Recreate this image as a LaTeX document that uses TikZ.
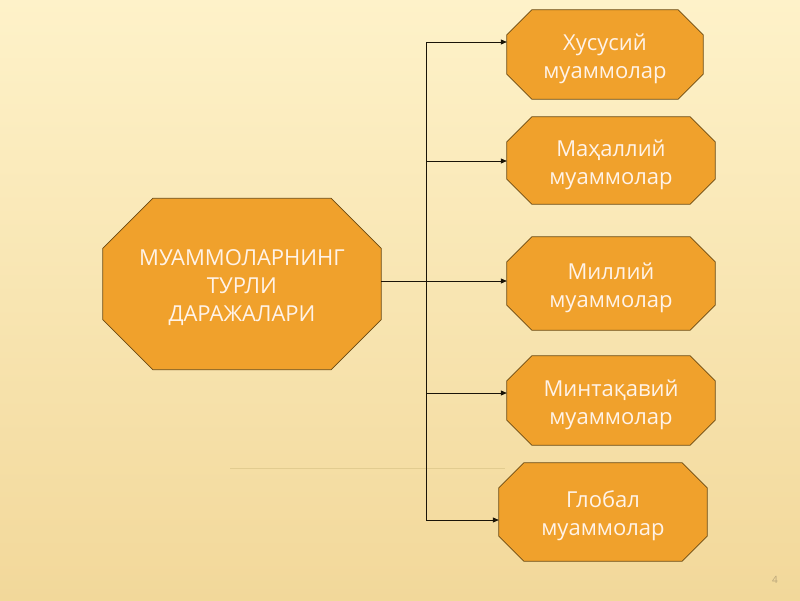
\documentclass[tikz,border=0pt]{standalone}
\usepackage{fontspec}
\setmainfont{Open Sans}
\usetikzlibrary{arrows.meta}
\definecolor{bgtop}{HTML}{FEF2C9}
\definecolor{bgbot}{HTML}{F2D89A}
\definecolor{boxfill}{HTML}{F0A12C}
\definecolor{boxline}{HTML}{6B4A12}
\definecolor{txt}{HTML}{FFF3E8}
\definecolor{conn}{HTML}{1A1408}
\definecolor{faintline}{HTML}{E2CC90}
\definecolor{pagenum}{HTML}{B9A57A}
\pgfdeclarelayer{bglayer}
\pgfdeclarelayer{shapes}
\pgfsetlayers{bglayer,shapes,main}
% name, cx, cy, w, h, cut, text ; text sits 4pt below the shape centre
\newcommand\octbox[7]{%
  \node[octtext, minimum width=#4pt, minimum height=#5pt] (#1) at (#2,{#3+4}) {#7};
  \begin{pgfonlayer}{shapes}
  \draw[octfill] ([xshift=#6pt,yshift=4pt]#1.north west) -- ([xshift=-#6pt,yshift=4pt]#1.north east)
    -- ([yshift=-#6pt+4pt]#1.north east) -- ([yshift=#6pt+4pt]#1.south east)
    -- ([xshift=-#6pt,yshift=4pt]#1.south east) -- ([xshift=#6pt,yshift=4pt]#1.south west)
    -- ([yshift=#6pt+4pt]#1.south west) -- ([yshift=-#6pt+4pt]#1.north west) -- cycle;
  \end{pgfonlayer}}
\begin{document}
\begin{tikzpicture}[x=1pt,y=-1pt,
  octtext/.style={rectangle, draw=none, inner sep=0pt, align=center, text=txt,
    font=\fontsize{22}{28}\selectfont},
  octfill/.style={draw=boxline, line width=0.8pt, fill=boxfill, line join=miter},
  arr/.style={draw=conn, line width=0.8pt, -{Triangle[length=6pt,width=5pt]}},
  ln/.style={draw=conn, line width=0.8pt}]
\begin{pgfonlayer}{bglayer}
  \fill[top color=bgtop, bottom color=bgbot] (0,0) rectangle (800,600);
  \draw[faintline, line width=0.6pt] (230,468) -- (505,468);
\end{pgfonlayer}
\useasboundingbox (0,0) rectangle (800,600);

\octbox{main}{242}{284}{278}{171}{50}{МУАММОЛАРНИНГ\\ТУРЛИ\\ДАРАЖАЛАРИ}
\octbox{b1}{605}{54.5}{196}{89}{25}{Хусусий\\муаммолар}
\octbox{b2}{611}{160.5}{208}{87}{25}{Маҳаллий\\муаммолар}
\octbox{b3}{611}{283.5}{208}{93}{25}{Миллий\\муаммолар}
\octbox{b4}{611}{400.5}{208}{89}{25}{Минтақавий\\муаммолар}
\octbox{b5}{603}{512}{208}{98}{25}{Глобал\\муаммолар}

\coordinate (jn) at (426,281);
\draw[ln] ([yshift=7pt]main.east) -- (jn);
\draw[arr] (jn) -- (b3.west |- jn);
\draw[arr] (jn) |- ([yshift=16.5pt]b1.west);
\draw[arr] (jn) |- ([yshift=3.5pt]b2.west);
\draw[arr] (jn) |- ([yshift=11.5pt]b4.west);
\draw[arr] (jn) |- ([yshift=-4pt]b5.west);

\node[font=\fontsize{10}{12}\selectfont, text=pagenum] (pg) at (775,580) {4};
\end{tikzpicture}
\end{document}
